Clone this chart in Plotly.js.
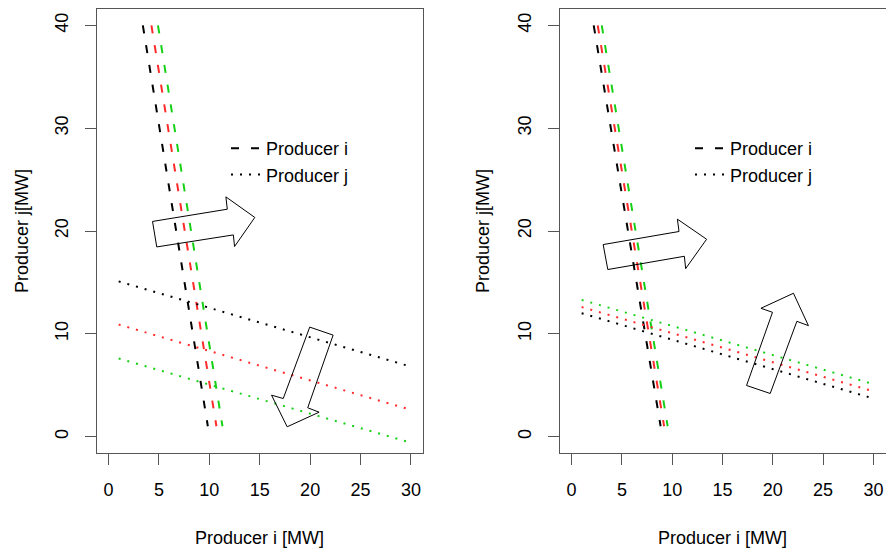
<!DOCTYPE html>
<html>
<head>
<meta charset="utf-8">
<script src="https://cdn.plot.ly/plotly-3.0.1.min.js"></script>
<style>html,body{margin:0;padding:0;background:#fff;}#chart{width:886px;height:550px;}</style>
</head>
<body>
<div id="chart"></div>
<script>
// ---- data (MW) ----
const xTicks = [0, 5, 10, 15, 20, 25, 30];
const yTicks = [0, 10, 20, 30, 40];

// Producer i reaction lines: y values at the two ends, x values per colour
const producerI_y = [40, 1];
const left_i_black_x = [3.4, 9.85];
const left_i_red_x = [4.25, 10.7];
const left_i_green_x = [4.9, 11.3];
const right_i_black_x = [2.2, 8.85];
const right_i_red_x = [2.6, 9.2];
const right_i_green_x = [3.0, 9.55];

// Producer j reaction lines: x values at the two ends, y values per colour
const producerJ_x = [1, 30];
const left_j_black_y = [15.1, 6.8];
const left_j_red_y = [10.9, 2.6];
const left_j_green_y = [7.6, -0.6];
const right_j_black_y = [12.0, 3.7];
const right_j_red_y = [12.6, 4.4];
const right_j_green_y = [13.3, 5.1];

// Block arrows (outline polygons, data units)
const left_arrow1_x = [4.36, 11.78, 11.64, 14.51, 12.50, 12.38, 4.78];
const left_arrow1_y = [20.93, 22.12, 23.32, 21.32, 18.49, 19.62, 18.45];
const left_arrow2_x = [19.96, 22.28, 19.76, 20.89, 17.72, 16.17, 17.33];
const left_arrow2_y = [10.65, 9.87, 2.80, 2.37, 0.95, 4.03, 3.70];
const right_arrow1_x = [3.14, 10.68, 10.52, 13.42, 11.34, 11.21, 3.60];
const right_arrow1_y = [18.68, 19.95, 21.15, 19.20, 16.34, 17.54, 16.25];
const right_arrow2_x = [17.39, 19.74, 22.39, 23.54, 22.05, 18.82, 19.97];
const right_arrow2_y = [4.97, 4.19, 11.21, 10.79, 13.94, 12.48, 12.09];

const legendNames = ['Producer i', 'Producer j'];
const xTitle = 'Producer i [MW]';
const yTitle = 'Producer j[MW]';

// ---- styling ----
const FONT = 'Liberation Sans, Arial, Helvetica, sans-serif';
const COL = {black: '#000000', red: '#FF2A2A', green: '#16D016'};
const DASH_I = '8px,12px';
const DASH_J = '2px,7px';

function iTrace(xs, color, xa, ya) {
  return {x: xs, y: producerI_y, type: 'scatter', mode: 'lines', xaxis: xa, yaxis: ya,
    line: {color: color, width: 2, dash: DASH_I}, showlegend: false, hoverinfo: 'skip'};
}
function jTrace(ys, color, xa, ya) {
  return {x: producerJ_x, y: ys, type: 'scatter', mode: 'lines', xaxis: xa, yaxis: ya,
    line: {color: color, width: 2, dash: DASH_J}, showlegend: false, hoverinfo: 'skip'};
}
function legTrace(name, dash, xa, ya, leg) {
  return {x: [null], y: [null], type: 'scatter', mode: 'lines', xaxis: xa, yaxis: ya,
    name: name, legend: leg, line: {color: '#000', width: 2, dash: dash}, showlegend: true};
}

const data = [
  iTrace(left_i_black_x, COL.black, 'x', 'y'),
  iTrace(left_i_red_x, COL.red, 'x', 'y'),
  iTrace(left_i_green_x, COL.green, 'x', 'y'),
  jTrace(left_j_black_y, COL.black, 'x', 'y'),
  jTrace(left_j_red_y, COL.red, 'x', 'y'),
  jTrace(left_j_green_y, COL.green, 'x', 'y'),
  iTrace(right_i_black_x, COL.black, 'x2', 'y2'),
  iTrace(right_i_red_x, COL.red, 'x2', 'y2'),
  iTrace(right_i_green_x, COL.green, 'x2', 'y2'),
  jTrace(right_j_black_y, COL.black, 'x2', 'y2'),
  jTrace(right_j_red_y, COL.red, 'x2', 'y2'),
  jTrace(right_j_green_y, COL.green, 'x2', 'y2'),
  legTrace(legendNames[0], DASH_I, 'x', 'y', 'legend'),
  legTrace(legendNames[1], DASH_J, 'x', 'y', 'legend'),
  legTrace(legendNames[0], DASH_I, 'x2', 'y2', 'legend2'),
  legTrace(legendNames[1], DASH_J, 'x2', 'y2', 'legend2')
];

function arrowShape(xs, ys, xref, yref) {
  let p = '';
  for (let k = 0; k < xs.length; k++) p += (k === 0 ? 'M' : 'L') + xs[k] + ',' + ys[k];
  return {type: 'path', xref: xref, yref: yref, path: p + 'Z',
    line: {color: '#000', width: 1}, fillcolor: 'rgba(0,0,0,0)', layer: 'above'};
}

const W = 886, H = 550;
const yDom = [1 - 453 / H, 1 - 9 / H];
function xAxis(dom, anchor) {
  return {domain: dom, anchor: anchor, range: [-1.2, 31.2], tickvals: xTicks, ticktext: xTicks.map(String),
    ticks: 'outside', ticklen: 11, tickwidth: 1, tickcolor: '#555', showline: true, mirror: true,
    linecolor: '#555', linewidth: 1, showgrid: false, zeroline: false, fixedrange: true,
    tickfont: {family: FONT, size: 18, color: '#000'}, ticklabelstandoff: 9};
}
function yAxis(anchor) {
  return {domain: yDom, anchor: anchor, range: [-1.6, 41.6], tickvals: yTicks, ticktext: yTicks.map(String),
    ticks: 'outside', ticklen: 11, tickwidth: 1, tickcolor: '#555', showline: true, mirror: true,
    linecolor: '#555', linewidth: 1, showgrid: false, zeroline: false, fixedrange: true, tickangle: -90,
    tickfont: {family: FONT, size: 18, color: '#000'}, ticklabelstandoff: 9};
}
function ann(text, x, y, angle) {
  return {text: text, xref: 'paper', yref: 'paper', x: x / W, y: 1 - y / H, xanchor: 'center', yanchor: 'middle',
    showarrow: false, textangle: angle, font: {family: FONT, size: 18, color: '#000'}};
}
function legend(xpx, ypx) {
  return {x: xpx / W, y: 1 - ypx / H, xanchor: 'left', yanchor: 'top', bgcolor: 'rgba(0,0,0,0)',
    borderwidth: 0, font: {family: FONT, size: 18, color: '#000'}, tracegroupgap: 0};
}

const layout = {
  width: W, height: H, margin: {l: 0, r: 0, t: 0, b: 0}, paper_bgcolor: '#fff', plot_bgcolor: '#fff',
  font: {family: FONT, size: 18, color: '#000'},
  xaxis: xAxis([96.5 / W, 423 / W], 'y'),
  yaxis: yAxis('x'),
  xaxis2: xAxis([559.5 / W, 885.5 / W], 'y2'),
  yaxis2: yAxis('x2'),
  legend: legend(226, 130),
  legend2: legend(690, 130),
  shapes: [
    arrowShape(left_arrow1_x, left_arrow1_y, 'x', 'y'),
    arrowShape(left_arrow2_x, left_arrow2_y, 'x', 'y'),
    arrowShape(right_arrow1_x, right_arrow1_y, 'x2', 'y2'),
    arrowShape(right_arrow2_x, right_arrow2_y, 'x2', 'y2')
  ],
  annotations: [
    ann(xTitle, 259.5, 538, 0),
    ann(yTitle, 22, 231, -90),
    ann(xTitle, 722, 538, 0),
    ann(yTitle, 483, 231, -90)
  ],
  showlegend: true
};

Plotly.newPlot('chart', data, layout, {staticPlot: true, displayModeBar: false});
</script>
</body>
</html>
